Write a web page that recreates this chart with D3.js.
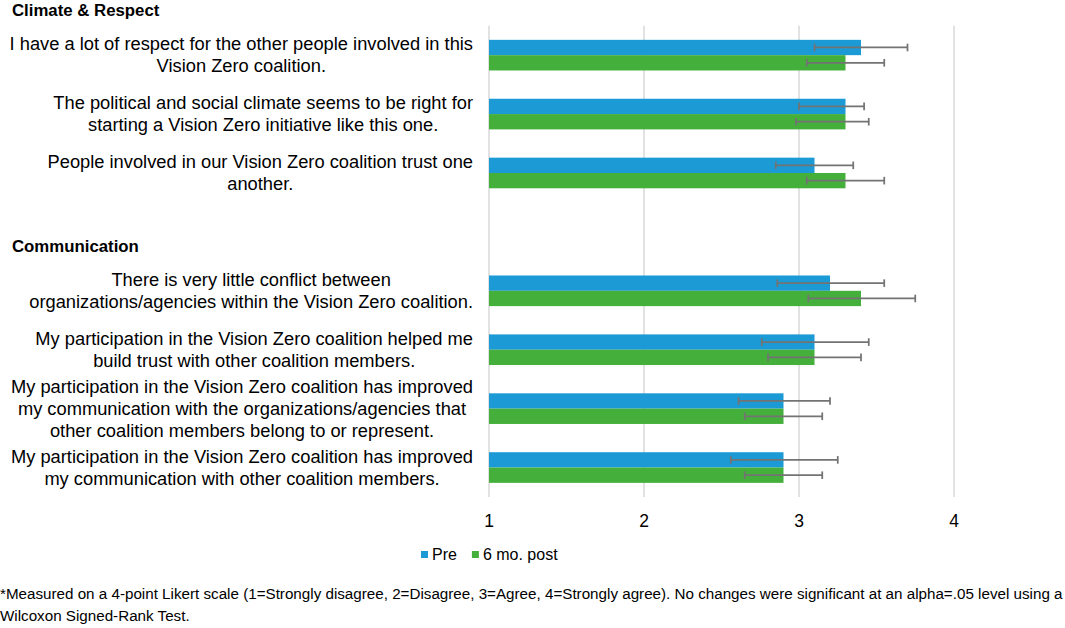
<!DOCTYPE html>
<html>
<head>
<meta charset="utf-8">
<script src="https://cdn.jsdelivr.net/npm/d3@7"></script>
<style>
  body { margin: 0; background: #fff; }
  svg { display: block; font-family: "Liberation Sans", Arial, sans-serif; }
</style>
</head>
<body>
<svg id="chart" width="1065" height="628"></svg>
<script>
// Survey items, grouped by section (lines broken as in the original)
var groups = ["Climate & Respect", "Communication"];
var categories = [
  "I have a lot of respect for the other people involved in this\nVision Zero coalition.",
  "The political and social climate seems to be right for\nstarting a Vision Zero initiative like this one.",
  "People involved in our Vision Zero coalition trust one\nanother.",
  "There is very little conflict between\norganizations/agencies within the Vision Zero coalition.",
  "My participation in the Vision Zero coalition helped me\nbuild trust with other coalition members.",
  "My participation in the Vision Zero coalition has improved\nmy communication with the organizations/agencies that\nother coalition members belong to or represent.",
  "My participation in the Vision Zero coalition has improved\nmy communication with other coalition members."
];
var groupOf = [0, 0, 0, 1, 1, 1, 1];

var seriesNames = ["Pre", "6 mo. post"];
var preValues  = [3.4, 3.3, 3.1, 3.2, 3.1, 2.9, 2.9];
var postValues = [3.3, 3.3, 3.3, 3.4, 3.1, 2.9, 2.9];
// error bar extents (minus / plus)
var preErrMinus  = [0.30, 0.30, 0.25, 0.34, 0.34, 0.29, 0.34];
var preErrPlus   = [0.30, 0.12, 0.25, 0.35, 0.35, 0.30, 0.35];
var postErrMinus = [0.25, 0.32, 0.25, 0.34, 0.30, 0.25, 0.25];
var postErrPlus  = [0.25, 0.15, 0.25, 0.35, 0.30, 0.25, 0.25];

var tickValues = [1, 2, 3, 4];
var footnote = [
  "*Measured on a 4-point Likert scale (1=Strongly disagree, 2=Disagree, 3=Agree, 4=Strongly agree). No changes were significant at an alpha=.05 level using a",
  "Wilcoxon Signed-Rank Test."
];

var colors = ["#1b9ad6", "#45af3b"];

var svg = d3.select("#chart");

// Build the row keys; each later section gets an empty slot for its heading
var rows = [];
categories.forEach(function(c, i) {
  if (i > 0 && groupOf[i] !== groupOf[i - 1]) rows.push("gap" + groupOf[i]);
  rows.push("c" + i);
});

var x = d3.scaleLinear().domain([1, 5]).range([489, 1109]);
var y = d3.scaleBand().domain(rows).range([25.7, 497])
  .paddingInner(0.48).paddingOuter(0.24);
var ySub = d3.scaleBand().domain([0, 1]).range([0, y.bandwidth()]);

// Gridlines
svg.append("g").selectAll("line")
  .data(tickValues)
  .enter().append("line")
  .attr("x1", function(d) { return x(d); })
  .attr("x2", function(d) { return x(d); })
  .attr("y1", 25.7)
  .attr("y2", 497)
  .attr("stroke", "#d9d9d9")
  .attr("stroke-width", 1.5);

// Tick labels
svg.append("g").selectAll("text")
  .data(tickValues)
  .enter().append("text")
  .attr("x", function(d) { return x(d); })
  .attr("y", 527)
  .attr("text-anchor", "middle")
  .attr("font-size", 17.5)
  .attr("fill", "#000")
  .text(function(d) { return d; });

var data = categories.map(function(c, i) {
  return {
    key: "c" + i,
    label: c,
    values: [
      {s: 0, v: preValues[i], lo: preErrMinus[i], hi: preErrPlus[i]},
      {s: 1, v: postValues[i], lo: postErrMinus[i], hi: postErrPlus[i]}
    ]
  };
});

var rowG = svg.append("g").selectAll("g")
  .data(data)
  .enter().append("g")
  .attr("transform", function(d) { return "translate(0," + y(d.key) + ")"; });

rowG.selectAll("rect")
  .data(function(d) { return d.values; })
  .enter().append("rect")
  .attr("x", x(1))
  .attr("y", function(d) { return ySub(d.s); })
  .attr("width", function(d) { return x(d.v) - x(1); })
  .attr("height", ySub.bandwidth())
  .attr("fill", function(d) { return colors[d.s]; });

// Error bars
var err = rowG.selectAll("g.err")
  .data(function(d) { return d.values; })
  .enter().append("g")
  .attr("class", "err")
  .attr("stroke", "#737373")
  .attr("stroke-width", 1.75)
  .attr("transform", function(d) { return "translate(0," + (ySub(d.s) + ySub.bandwidth() / 2) + ")"; });

err.append("line")
  .attr("x1", function(d) { return x(d.v - d.lo); })
  .attr("x2", function(d) { return x(d.v + d.hi); });
err.append("line")
  .attr("x1", function(d) { return x(d.v - d.lo); })
  .attr("x2", function(d) { return x(d.v - d.lo); })
  .attr("y1", -3.8).attr("y2", 3.8);
err.append("line")
  .attr("x1", function(d) { return x(d.v + d.hi); })
  .attr("x2", function(d) { return x(d.v + d.hi); })
  .attr("y1", -3.8).attr("y2", 3.8);

// Category labels: centred lines, block right-aligned against the plot
var lineH = 22;
var labelRight = 473;
rowG.each(function(d) {
  var lines = d.label.split("\n");
  var t = d3.select(this).append("text")
    .attr("font-size", 18.3)
    .attr("fill", "#000")
    .attr("text-anchor", "middle");
  var mid = y.bandwidth() / 2;
  var first = mid - (lines.length - 1) * lineH / 2 + 6;
  var spans = t.selectAll("tspan")
    .data(lines)
    .enter().append("tspan")
    .attr("y", function(l, i) { return first + i * lineH; })
    .text(function(l) { return l; });
  var w = 0;
  spans.each(function() { w = Math.max(w, this.getComputedTextLength()); });
  spans.attr("x", labelRight - w / 2);
});

// Section headings
svg.append("g").selectAll("text")
  .data(groups)
  .enter().append("text")
  .attr("x", 12)
  .attr("y", function(g, gi) {
    return y("c" + groupOf.indexOf(gi)) - 23.5;
  })
  .attr("font-size", 16.8)
  .attr("font-weight", "bold")
  .attr("fill", "#000")
  .text(function(g) { return g; });

// Legend
var legend = svg.append("g").attr("transform", "translate(421,0)");
var lx = 0;
seriesNames.forEach(function(name, i) {
  var item = legend.append("g").attr("transform", "translate(" + lx + ",0)");
  item.append("rect")
    .attr("x", 0).attr("y", 551)
    .attr("width", 7).attr("height", 7)
    .attr("fill", colors[i]);
  var t = item.append("text")
    .attr("x", 11).attr("y", 560)
    .attr("font-size", 16)
    .attr("fill", "#000")
    .text(name);
  lx += 11 + t.node().getComputedTextLength() + 15;
});

// Footnote
svg.append("g").selectAll("text")
  .data(footnote)
  .enter().append("text")
  .attr("x", 0)
  .attr("y", function(d, i) { return 599 + i * 22; })
  .attr("font-size", 15.2)
  .attr("fill", "#000")
  .text(function(d) { return d; });
</script>
</body>
</html>
